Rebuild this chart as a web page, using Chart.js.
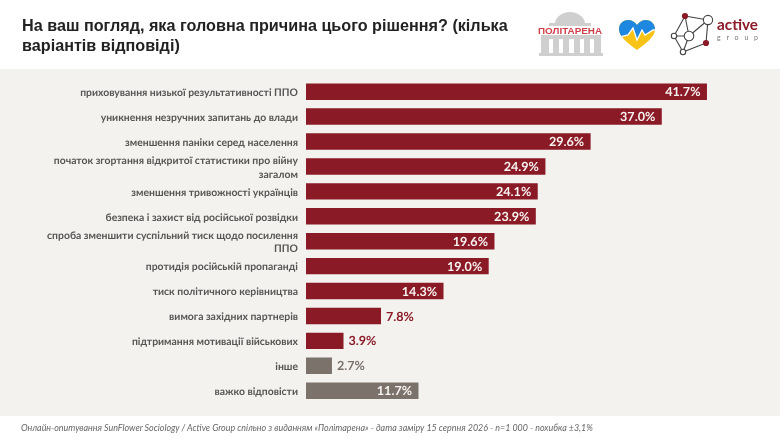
<!DOCTYPE html>
<html lang="uk">
<head>
<meta charset="utf-8">
<title>Причина рішення</title>
<script src="https://cdn.jsdelivr.net/npm/chart.js@4/dist/chart.umd.min.js"></script>
<style>
    html, body { margin: 0; padding: 0; }
    body { width: 780px; height: 439px; overflow: hidden; background: #fff; position: relative; font-family: Lato, sans-serif; }
    #band { position: absolute; left: 0; top: 69px; width: 780px; height: 347px; background: #f4f2ef; }
    #wrap { position: absolute; left: 0; top: 0; width: 780px; height: 439px; }
    #title { position: absolute; left: 22px; top: 16px; width: 510px; font: bold 16.2px/19.5px "Liberation Sans", sans-serif; color: #222; margin: 0; }
    #note { position: absolute; left: 21px; top: 422px; font: italic 8.92px Lato, sans-serif; color: #666; white-space: nowrap; }
    .logo { position: absolute; top: 0; left: 0; }
</style>
</head>
<body>
<div id="band"></div>
<div id="wrap"><canvas id="chart" width="780" height="439"></canvas></div>
<h1 id="title">На ваш погляд, яка головна причина цього рішення? (кілька варіантів відповіді)</h1>

<svg class="logo" width="780" height="69" viewBox="0 0 780 69">
    <!-- Політарена -->
    <g fill="#cfcfcf">
        <path d="M555 23 C556 16 563 12 570 12 C577 12 584 16 585 23z"/>
        <rect x="549" y="23" width="42" height="3"/>
        <rect x="541" y="35" width="60" height="18"/>
        <rect x="539" y="53" width="64" height="3"/>
    </g>
    <g fill="#fff">
        <rect x="549" y="39" width="4" height="14"/><rect x="559" y="39" width="4" height="14"/>
        <rect x="569" y="39" width="5" height="14"/><rect x="580" y="39" width="4" height="14"/><rect x="590" y="39" width="4" height="14"/>
    </g>
    <text x="570" y="33.5" text-anchor="middle" textLength="64" lengthAdjust="spacingAndGlyphs" font-family="Liberation Sans, sans-serif" font-size="9.5" font-weight="700" fill="#d0404a">ПОЛІТАРЕНА</text>
    <!-- серце -->
    <clipPath id="heart"><path d="M637 50 C628 43 619 37 619 29 C619 23 624 20 628 20 C632 20 635 22 637 25 C639 22 642 20 646 20 C651 20 655 24 655 29 C655 37 646 43 637 50Z"/></clipPath>
    <g clip-path="url(#heart)">
        <rect x="615" y="18" width="44" height="34" fill="#f7c316"/>
        <path d="M615 18 H659 V30 L653 30 L645 35 L642 30 L637 40 L633 28 L628 35 L615 38Z" fill="#1e88e0"/>
        <path d="M615 38 L628 35 L633 28 L637 40 L642 30 L645 35 L653 30 L659 30" fill="none" stroke="#fff" stroke-width="1.3"/>
    </g>
    <!-- active group -->
    <g stroke="#444" stroke-width="1.1" fill="none">
        <path d="M685 16 L708 20 M685 16 L674 36 M685 16 L689 36 M708 20 L689 36 M708 20 L706 43 M689 36 L674 36 M689 36 L683 52 M674 36 L683 52 M683 52 L706 43"/>
    </g>
    <g stroke="#444" stroke-width="1.1" fill="#fff">
        <circle cx="708" cy="20" r="4.6"/><circle cx="689" cy="36" r="4.8"/><circle cx="674" cy="36" r="2.7"/><circle cx="683" cy="52" r="2.7"/>
    </g>
    <circle cx="685" cy="16" r="3.1" fill="#8a1a26"/><circle cx="706" cy="43" r="3.1" fill="#8a1a26"/>
    <text x="717" y="30" textLength="41" lengthAdjust="spacingAndGlyphs" font-family="Lato, sans-serif" font-size="15" font-weight="700" fill="#8a1a26">active</text>
    <text x="717" y="39.5" textLength="41" font-family="Lato, sans-serif" font-size="7" fill="#777">group</text>
</svg>

<div id="note">Онлайн-опитування SunFlower Sociology / Active Group спільно з виданням «Політарена» - дата заміру 15 серпня 2026 - n=1 000 - похибка ±3,1%</div>

<script>
// Data
const categories = [
    'приховування низької результативності ППО',
    'уникнення незручних запитань до влади',
    'зменшення паніки серед населення',
    ['початок згортання відкритої статистики про війну', 'загалом'],
    'зменшення тривожності українців',
    'безпека і захист від російської розвідки',
    ['спроба зменшити суспільний тиск щодо посилення', 'ППО'],
    'протидія російській пропаганді',
    'тиск політичного керівництва',
    'вимога західних партнерів',
    'підтримання мотивації військових',
    'інше',
    'важко відповісти'
];
const values = [41.7, 37.0, 29.6, 24.9, 24.1, 23.9, 19.6, 19.0, 14.3, 7.8, 3.9, 2.7, 11.7];

const RED = '#8a1a26';
const GREY = '#7b726c';
const barColors = values.map((v, i) => i < 11 ? RED : GREY);

// Value labels: inside the bar when it is long enough, otherwise right after it
const valueLabels = {
    id: 'valueLabels',
    beforeDraw(chart) {
        chart.ctx.textRendering = 'geometricPrecision';
    },
    afterDatasetsDraw(chart) {
        const ctx = chart.ctx;
        const bars = chart.getDatasetMeta(0).data;
        ctx.save();
        ctx.font = 'bold 12.6px Lato, sans-serif';
        ctx.textBaseline = 'middle';
        bars.forEach((bar, i) => {
            const text = values[i].toFixed(1) + '%';
            if (values[i] > 10) {
                ctx.textAlign = 'right';
                ctx.fillStyle = '#f7f3f0';
                ctx.fillText(text, bar.x - 6.5, bar.y + 0.5);
            } else {
                ctx.textAlign = 'left';
                ctx.fillStyle = barColors[i];
                ctx.fillText(text, bar.x + 5, bar.y + 0.5);
            }
        });
        ctx.restore();
    }
};

new Chart(document.getElementById('chart'), {
    type: 'bar',
    data: {
        labels: categories,
        datasets: [{
            data: values,
            backgroundColor: barColors,
            borderWidth: 0,
            barPercentage: 0.66,
            categoryPercentage: 1
        }]
    },
    options: {
        indexAxis: 'y',
        responsive: false,
        animation: false,
        layout: { padding: { top: 79.2, bottom: 35.8, left: 0, right: 41.3 } },
        plugins: { legend: { display: false }, tooltip: { enabled: false } },
        scales: {
            x: { display: false, min: 0, max: 45 },
            y: {
                grid: { display: false, drawTicks: false },
                border: { display: false },
                ticks: {
                    autoSkip: false,
                    padding: 8,
                    labelOffset: 1,
                    color: '#555',
                    font: { family: 'Lato, sans-serif', size: 10.4, weight: 'bold', lineHeight: 1.32 }
                },
                afterFit(scale) { scale.width = 306; }
            }
        }
    },
    plugins: [valueLabels]
});
</script>
</body>
</html>
